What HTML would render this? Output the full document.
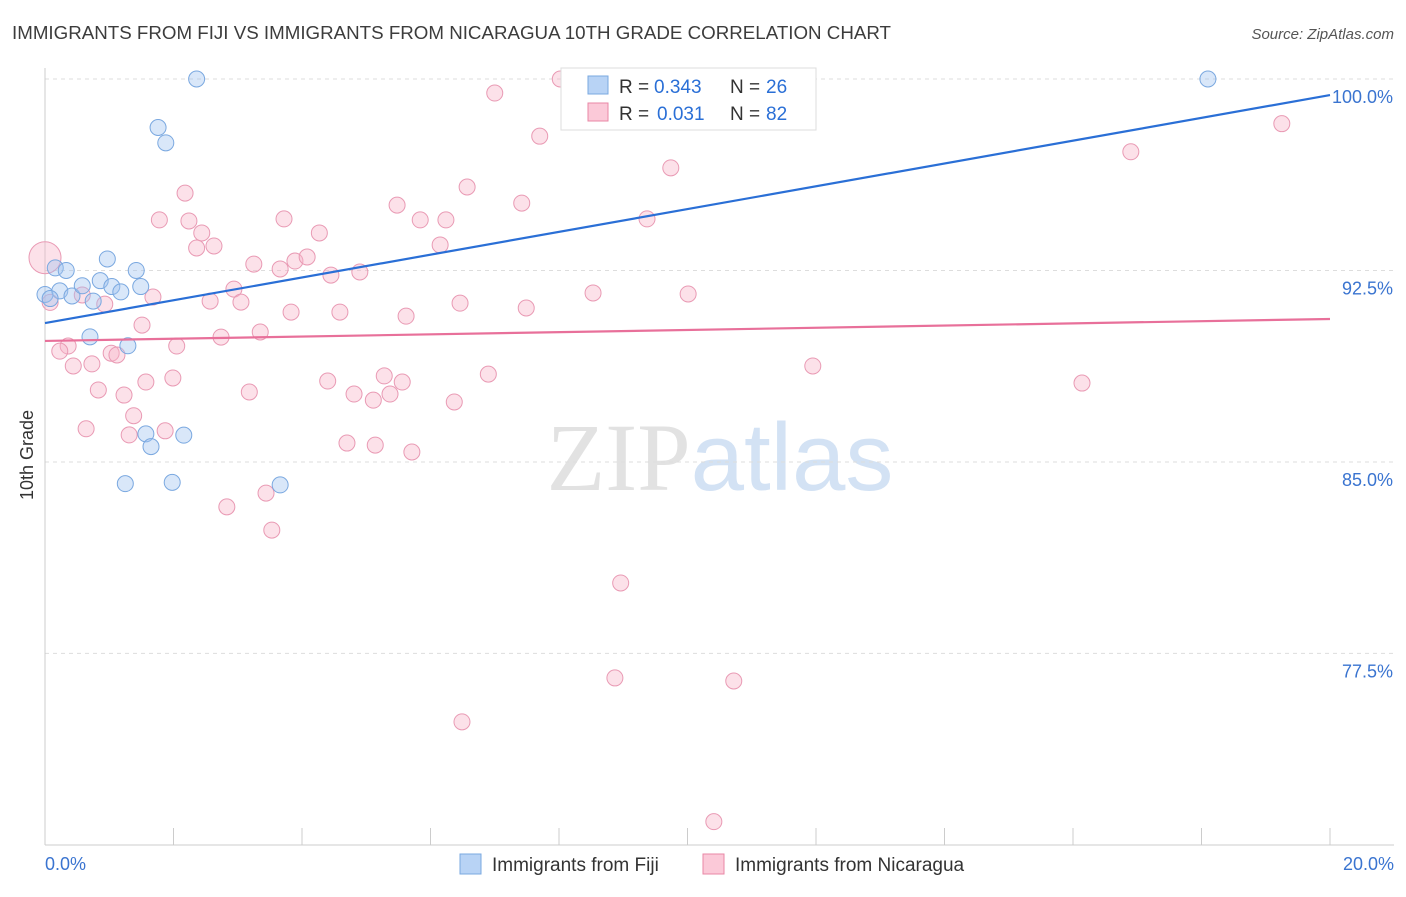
<!DOCTYPE html>
<html><head><meta charset="utf-8"><style>
body{margin:0;background:#fff;width:1406px;height:892px;overflow:hidden;font-family:"Liberation Sans",sans-serif}
svg text{font-family:"Liberation Sans",sans-serif}
</style></head><body>
<svg id="chart" width="1406" height="892" viewBox="0 0 1406 892" xmlns="http://www.w3.org/2000/svg">
<text x="12" y="39" font-size="18" fill="#3c3c3c" textLength="879" lengthAdjust="spacingAndGlyphs">IMMIGRANTS FROM FIJI VS IMMIGRANTS FROM NICARAGUA 10TH GRADE CORRELATION CHART</text>
<text x="1394" y="39" font-size="15" fill="#555" text-anchor="end" font-style="italic">Source: ZipAtlas.com</text>
<text x="720" y="490" font-size="96" text-anchor="middle"><tspan fill="#e2e2e2" font-family="Liberation Serif">ZIP</tspan><tspan fill="#d3e2f4">atlas</tspan></text>
<text transform="translate(33,455) rotate(-90)" font-size="18" fill="#333" text-anchor="middle">10th Grade</text>
<g id="grid"></g><g id="axes"></g><g id="marks"></g>
<g>
<rect x="561" y="68" width="255" height="62" fill="#fff" stroke="#ddd"/>
<rect x="588" y="76" width="20" height="18" fill="#b8d3f5" stroke="#7aa8e0"/>
<text x="619" y="93" font-size="19" fill="#333">R =</text>
<text x="654" y="93" font-size="19" fill="#2a6fd6">0.343</text>
<text x="730" y="93" font-size="19" fill="#333">N =</text>
<text x="766" y="93" font-size="19" fill="#2a6fd6">26</text>
<rect x="588" y="103" width="20" height="18" fill="#fbc9d8" stroke="#e887a6"/>
<text x="619" y="120" font-size="19" fill="#333">R =</text>
<text x="657" y="120" font-size="19" fill="#2a6fd6">0.031</text>
<text x="730" y="120" font-size="19" fill="#333">N =</text>
<text x="766" y="120" font-size="19" fill="#2a6fd6">82</text>
</g>
<g>
<rect x="460" y="854" width="21" height="20" fill="#b8d3f5" stroke="#7aa8e0"/>
<text x="492" y="871" font-size="19" fill="#333">Immigrants from Fiji</text>
<rect x="703" y="854" width="21" height="20" fill="#fbc9d8" stroke="#e887a6"/>
<text x="735" y="871" font-size="19" fill="#333">Immigrants from Nicaragua</text>
</g>
</svg>
<script>
const yTicks=[100,92.5,85,77.5];
const yTickLabels=["100.0%","92.5%","85.0%","77.5%"];
const xEndLabels=["0.0%","20.0%"];
const fijiX=[2.36,1.76,1.88,0.97,0.16,0.33,1.42,0.0,0.23,0.42,0.58,0.86,1.04,1.18,1.49,0.75,0.70,1.29,1.57,1.65,2.16,1.25,1.98,3.66,18.10,0.08];
const fijiY=[100,98.1,97.5,92.95,92.6,92.5,92.5,91.56,91.7,91.5,91.9,92.1,91.87,91.66,91.87,91.3,89.9,89.55,86.1,85.6,86.05,84.15,84.2,84.1,100,91.4];
const nicX=[0.0,0.08,8.02,7.0,7.7,19.25,16.9,9.74,2.18,6.57,7.42,5.48,1.78,2.24,3.72,5.84,6.24,9.37,2.44,4.27,2.36,2.63,6.15,3.25,3.66,3.89,4.08,4.45,4.90,2.94,1.68,2.57,3.05,0.93,0.58,3.83,4.59,5.62,6.46,7.49,8.53,10.01,1.51,2.74,3.35,2.05,0.36,0.23,1.03,1.12,0.73,0.44,11.95,16.14,6.90,5.28,5.56,4.40,1.57,1.99,0.83,1.23,3.18,4.81,5.11,5.37,6.37,1.38,0.64,1.31,1.87,4.70,5.14,5.71,3.44,2.83,3.53,8.96,8.87,10.72,6.49,10.41];
const nicY=[93.0,91.25,100,99.45,97.76,98.25,97.15,96.52,95.53,95.77,95.14,95.06,94.48,94.44,94.52,94.48,94.48,94.52,93.97,93.97,93.38,93.46,93.50,92.75,92.56,92.87,93.03,92.32,92.44,91.77,91.46,91.30,91.26,91.18,91.54,90.87,90.87,90.71,91.22,91.03,91.62,91.58,90.36,89.89,90.09,89.54,89.54,89.34,89.26,89.19,88.84,88.76,88.76,88.09,88.44,88.37,88.13,88.17,88.13,88.29,87.82,87.62,87.74,87.66,87.42,87.66,87.35,86.81,86.30,86.06,86.22,85.74,85.66,85.39,83.78,83.24,82.33,80.26,76.54,76.42,74.82,70.91];
const fijiTrend=[90.44,99.37];
const nicTrend=[89.74,90.6];
const xDomain=[0,20];
const NS="http://www.w3.org/2000/svg";
function xs(v){return 45+(v-xDomain[0])*(1285/(xDomain[1]-xDomain[0]));}
function ys(v){return 79+(100-v)*25.53;}
function mk(t,a,p){const e=document.createElementNS(NS,t);for(const k in a)e.setAttribute(k,a[k]);p.appendChild(e);return e;}
const grid=document.getElementById('grid'),axes=document.getElementById('axes'),marks=document.getElementById('marks');
yTicks.forEach((t,i)=>{
 const l=mk('line',{x1:45,x2:1394,y1:ys(t),y2:ys(t),stroke:'#ddd','stroke-dasharray':'4,4'},grid);
 
 
 const tx=mk('text',{x:1393,y:ys(t)+24,'font-size':18,fill:'#3a74d0','text-anchor':'end'},axes);
 tx.textContent=yTickLabels[i];
 
 
});
const yax=mk('line',{x1:45,x2:45,y1:68,y2:845,stroke:'#ccc'},axes);


const xax=mk('line',{x1:45,x2:1394,y1:845,y2:845,stroke:'#ccc'},axes);


for(let v=0;v<=20;v+=2){
 const t=mk('line',{x1:xs(v),x2:xs(v),y1:828,y2:845,stroke:'#ccc'},axes);
 
 
}
[[0,'start',45],[20,'end',1394]].forEach((d,i)=>{
 const t=mk('text',{x:d[2],y:870,'font-size':18,fill:'#3a74d0','text-anchor':d[1]},axes);
 t.textContent=xEndLabels[i];
 
 
});
nicX.forEach((x,i)=>{
 const c=mk('circle',{cx:xs(x),cy:ys(nicY[i]),r:i===0?16:8,fill:'rgba(248,180,200,0.4)',stroke:'#e99ab4','stroke-width':1},marks);
 
 
});
fijiX.forEach((x,i)=>{
 const c=mk('circle',{cx:xs(x),cy:ys(fijiY[i]),r:8,fill:'rgba(160,195,240,0.4)',stroke:'#7aa8e0','stroke-width':1},marks);
 
 
});
const tb=mk('line',{x1:xs(0),y1:ys(fijiTrend[0]),x2:xs(20),y2:ys(fijiTrend[1]),stroke:'#2a6fd6','stroke-width':2.2},marks);


const tp=mk('line',{x1:xs(0),y1:ys(nicTrend[0]),x2:xs(20),y2:ys(nicTrend[1]),stroke:'#e8709a','stroke-width':2.2},marks);


</script>
</body></html>
